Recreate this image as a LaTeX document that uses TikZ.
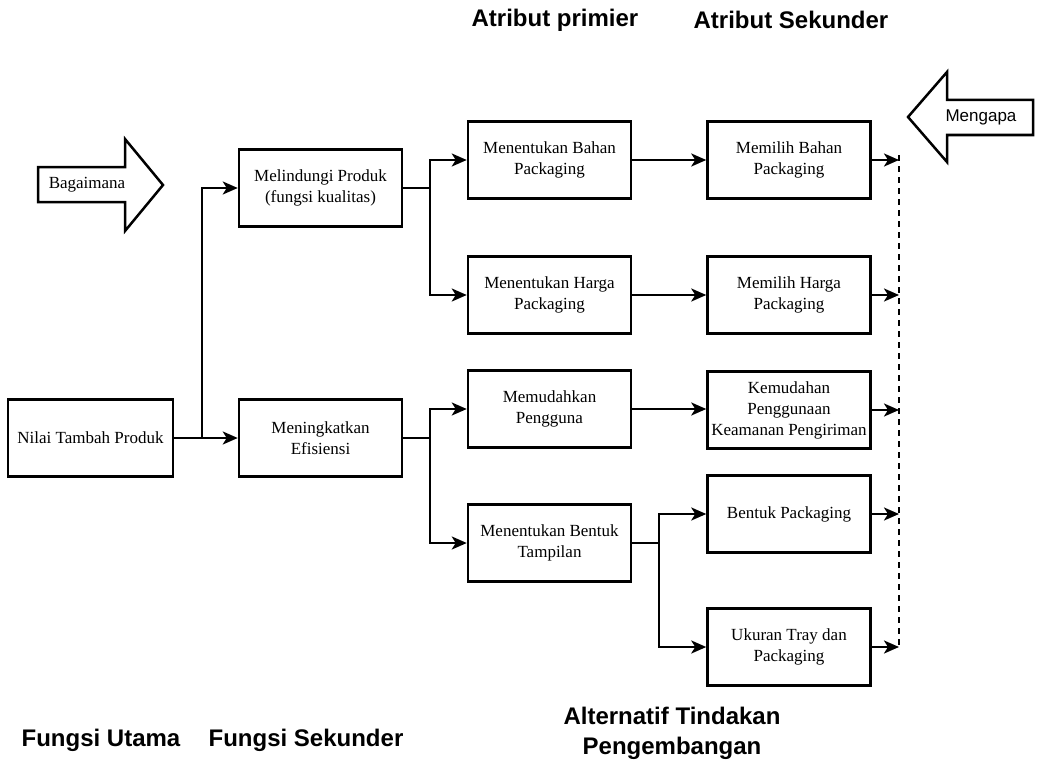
\documentclass[tikz,border=0pt]{standalone}
\usepackage{fontspec}
\setmainfont{Liberation Serif}
\setsansfont{Liberation Sans}
\usetikzlibrary{arrows.meta, calc, positioning}

\begin{document}
\begin{tikzpicture}[
    x=1pt, y=-1pt,
    box/.style={draw, line width=2.5pt, minimum width=163pt, minimum height=77pt, align=center, inner sep=2pt, font=\fontsize{17}{21}\selectfont},
    link/.style={line width=2.5pt},
    arr/.style={-{Stealth[length=15pt, width=13pt, inset=4pt]}, line width=2.5pt},
    head/.style={font=\sffamily\bfseries\fontsize{24}{30}\selectfont, align=center},
    bigarrow/.style={draw, line width=2.5pt, line join=miter}
]
\useasboundingbox (0,0) rectangle (1038,765);

% Headers
\node[head] (primier) at (555,20) {Atribut primier};
\node[head] (sekunderatr) at (791,20) {Atribut Sekunder};
\node[head] (utama) at (101,740) {Fungsi Utama};
\node[head] (sekunder) at (306,740) {Fungsi Sekunder};
\node[head] (alternatif) at (672,733) {Alternatif Tindakan\\Pengembangan};

% Big arrows
\draw[bigarrow] (38,167) -- (125,167) -- (125,139) -- (163,185) -- (125,231) -- (125,202) -- (38,202) -- cycle;
\node[font=\fontsize{17}{21}\selectfont] (bagaimana) at (87,185) {Bagaimana};
\draw[bigarrow] (1033,100) -- (947,100) -- (947,72) -- (908,117) -- (947,162) -- (947,135) -- (1033,135) -- cycle;
\node[font=\sffamily\fontsize{17}{21}\selectfont] (mengapa) at (981,117) {Mengapa};

% Boxes
\node[box, minimum width=165pt] (nilai) at (90.5,438) {Nilai Tambah Produk};
\node[box] (melindungi) at (320.5,188) {Melindungi Produk\\(fungsi kualitas)};
\node[box] (efisiensi) at (320.5,438) {Meningkatkan\\Efisiensi};

\node[box] (bahan) at (549.5,160) {Menentukan Bahan\\Packaging};
\node[box] (harga) at (549.5,295) {Menentukan Harga\\Packaging};
\node[box] (pengguna) at (549.5,409) {Memudahkan\\Pengguna};
\node[box] (bentuk) at (549.5,543) {Menentukan Bentuk\\Tampilan};

\node[box] (pilihbahan) at (789,160) {Memilih Bahan\\Packaging};
\node[box] (pilihharga) at (789,295) {Memilih Harga\\Packaging};
\node[box] (kemudahan) at (789,410) {Kemudahan\\Penggunaan\\Keamanan Pengiriman};
\node[box] (bentukpack) at (789,514) {Bentuk Packaging};
\node[box] (ukuran) at (789,647) {Ukuran Tray dan\\Packaging};

% Connectors
\coordinate (j1) at (202,438);
\draw[arr] (nilai) -- (efisiensi);
\draw[arr] (j1) |- (melindungi);

\coordinate (j2) at (430,188);
\draw[link] (melindungi) -- (j2);
\draw[arr] (j2) |- (bahan);
\draw[arr] (j2) |- (harga);

\coordinate (j3) at (430,438);
\draw[link] (efisiensi) -- (j3);
\draw[arr] (j3) |- (pengguna);
\draw[arr] (j3) |- (bentuk);

\draw[arr] (bahan) -- (pilihbahan);
\draw[arr] (harga) -- (pilihharga);
\draw[arr] (pengguna) -- (pengguna -| kemudahan.west);

\coordinate (j4) at (659,543);
\draw[link] (bentuk) -- (j4);
\draw[arr] (j4) |- (bentukpack);
\draw[arr] (j4) |- (ukuran);

% Dashed collector
\coordinate (dtop) at (899,155);
\coordinate (dbot) at (899,648);
\draw[link, line width=2pt, dash pattern=on 6pt off 5pt] (dtop) -- (dbot);
\foreach \n in {pilihbahan, pilihharga, kemudahan, bentukpack, ukuran}
    \draw[arr] (\n) -- (\n -| dtop);

\end{tikzpicture}
\end{document}
